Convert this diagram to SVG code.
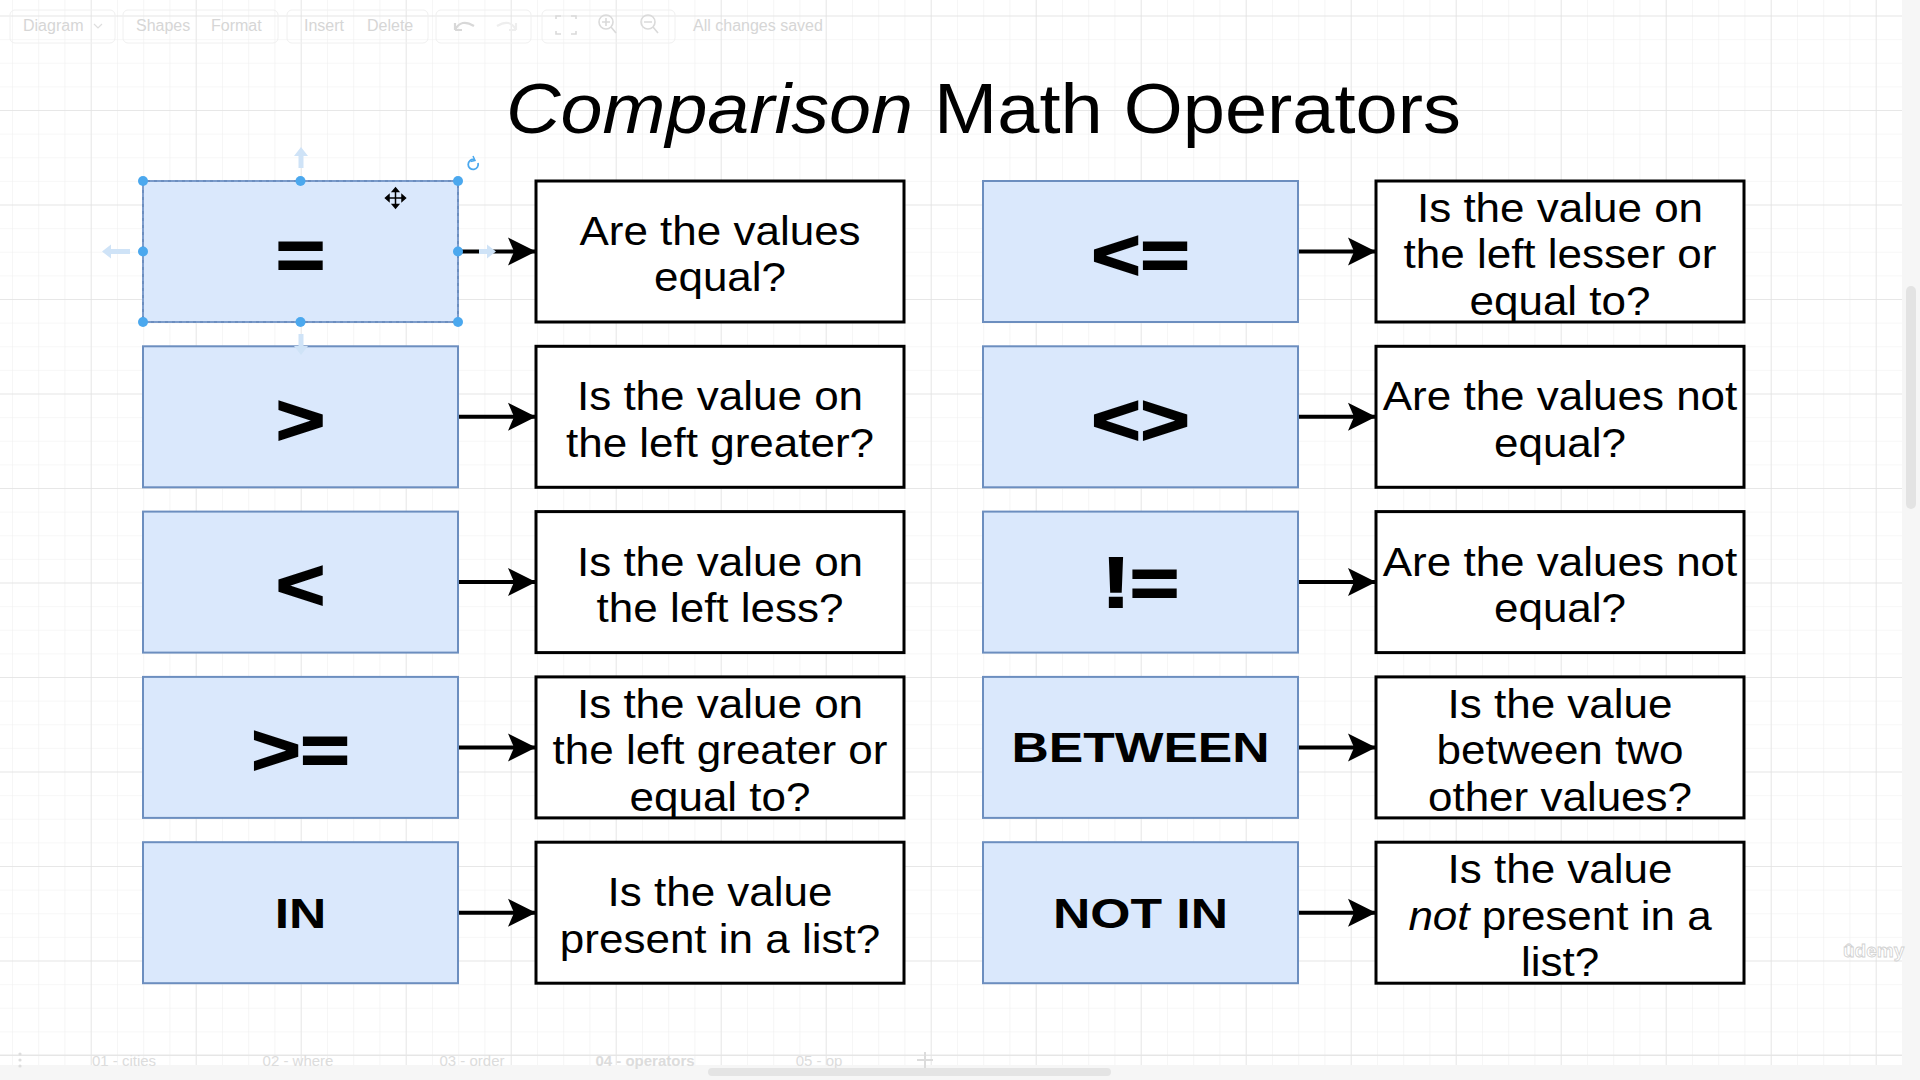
<svg xmlns="http://www.w3.org/2000/svg" width="1920" height="1080" viewBox="0 0 1920 1080">
  <defs>
    <pattern id="minor" x="90.7" y="15.5" width="26.25" height="23.625" patternUnits="userSpaceOnUse">
      <path d="M0,0 H26.25 M0,0 V23.625" fill="none" stroke="#efefef" stroke-width="1.2"/>
    </pattern>
    <pattern id="major" x="90.7" y="15.5" width="105" height="94.5" patternUnits="userSpaceOnUse">
      <path d="M0,0 H105 M0,0 V94.5" fill="none" stroke="#e2e2e2" stroke-width="1.4"/>
    </pattern>
    <marker id="arrow" markerUnits="userSpaceOnUse" markerWidth="32" markerHeight="32" refX="28" refY="15" orient="auto">
      <path d="M0,1 L28,15 L0,29 L6,15 Z" fill="#000"/>
    </marker>
    <style>
      .op { fill: #dae8fc; stroke: #6c8ebf; stroke-width: 2; }
      .q { fill: #ffffff; stroke: #000; stroke-width: 3; }
      .qt { font-family: "Liberation Sans", Arial, sans-serif; font-size: 40px; fill: #000; text-anchor: middle; }
      .sym { font-family: "Liberation Sans", Arial, sans-serif; font-size: 70px; font-weight: bold; fill: #000; stroke: #000; stroke-width: 1.8; text-anchor: middle; }
      .word { font-family: "Liberation Sans", Arial, sans-serif; font-size: 42px; font-weight: bold; fill: #000; text-anchor: middle; }
      .conn { stroke: #000; stroke-width: 4; fill: none; marker-end: url(#arrow); }
      .ui { font-family: "Liberation Sans", Arial, sans-serif; font-size: 16px; fill: #d6d6d6; }
      .tab { font-family: "Liberation Sans", Arial, sans-serif; font-size: 15px; fill: #dcdcdc; text-anchor: middle; }
      .handle { fill: #4ba8ee; }
      .hint { fill: #cfe3f7; }
    </style>
  </defs>

  <!-- canvas -->
  <rect x="0" y="0" width="1920" height="1080" fill="#ffffff"/>
  <rect x="0" y="0" width="1902" height="1065" fill="url(#minor)"/>
  <rect x="0" y="0" width="1902" height="1065" fill="url(#major)"/>

  <!-- faint toolbar -->
  <g id="toolbar">
    <g fill="none" stroke="#f0f0f0" stroke-width="1">
      <rect x="10" y="10" width="105" height="33" rx="5"/>
      <rect x="123" y="10" width="155" height="33" rx="5"/>
      <rect x="287" y="10" width="141" height="33" rx="5"/>
      <rect x="436" y="10" width="95" height="33" rx="5"/>
      <rect x="542" y="10" width="133" height="33" rx="5"/>
    </g>
    <text class="ui" x="23" y="31">Diagram</text>
    <path d="M94,24 l4,4 l4,-4" fill="none" stroke="#dedede" stroke-width="1.2"/>
    <text class="ui" x="136" y="31">Shapes</text>
    <text class="ui" x="211" y="31">Format</text>
    <text class="ui" x="304" y="31">Insert</text>
    <text class="ui" x="367" y="31">Delete</text>
    <path d="M455,30 q6,-12 19,-4 M455,30 l0,-7 M455,30 l7,0" fill="none" stroke="#d8d8d8" stroke-width="2.2"/>
    <path d="M516,30 q-6,-12 -19,-4 M516,30 l0,-7 M516,30 l-7,0" fill="none" stroke="#eeeeee" stroke-width="2.2"/>
    <path d="M556,19 v-3 h5 M571,16 h5 v3 M576,31 v3 h-5 M561,34 h-5 v-3" fill="none" stroke="#dadada" stroke-width="1.6"/>
    <circle cx="606" cy="22" r="7" fill="none" stroke="#dadada" stroke-width="1.6"/>
    <path d="M611,27 l5,6 M606,18 v8 M602,22 h8" fill="none" stroke="#dadada" stroke-width="1.6"/>
    <circle cx="648" cy="22" r="7" fill="none" stroke="#dadada" stroke-width="1.6"/>
    <path d="M653,27 l5,6 M644,22 h8" fill="none" stroke="#dadada" stroke-width="1.6"/>
    <text class="ui" x="693" y="31">All changes saved</text>
  </g>

  <!-- title -->
  <g id="title">
    <text x="506" y="133" font-family="'Liberation Sans', Arial, sans-serif" font-size="70" font-style="italic" textLength="407" lengthAdjust="spacingAndGlyphs">Comparison</text>
    <text x="934" y="133" font-family="'Liberation Sans', Arial, sans-serif" font-size="70" textLength="527" lengthAdjust="spacingAndGlyphs">Math Operators</text>
  </g>

  <!-- connectors -->
  <g id="connectors">
    <line class="conn" x1="458" y1="251.5" x2="536" y2="251.5"/>
    <line class="conn" x1="458" y1="416.8" x2="536" y2="416.8"/>
    <line class="conn" x1="458" y1="582.1" x2="536" y2="582.1"/>
    <line class="conn" x1="458" y1="747.4" x2="536" y2="747.4"/>
    <line class="conn" x1="458" y1="912.7" x2="536" y2="912.7"/>
    <line class="conn" x1="1298" y1="251.5" x2="1376" y2="251.5"/>
    <line class="conn" x1="1298" y1="416.8" x2="1376" y2="416.8"/>
    <line class="conn" x1="1298" y1="582.1" x2="1376" y2="582.1"/>
    <line class="conn" x1="1298" y1="747.4" x2="1376" y2="747.4"/>
    <line class="conn" x1="1298" y1="912.7" x2="1376" y2="912.7"/>
  </g>

  <!-- left column operators -->
  <g id="op-eq">
    <rect class="op" x="143" y="181" width="315" height="141"/>
    <text class="sym" transform="translate(300.5,278.5) scale(1.2,1)">=</text>
  </g>
  <g id="op-gt">
    <rect class="op" x="143" y="346.3" width="315" height="141"/>
    <text class="sym" transform="translate(300.5,443.8) scale(1.2,1)">&gt;</text>
  </g>
  <g id="op-lt">
    <rect class="op" x="143" y="511.6" width="315" height="141"/>
    <text class="sym" transform="translate(300.5,609.1) scale(1.2,1)">&lt;</text>
  </g>
  <g id="op-gte">
    <rect class="op" x="143" y="676.9" width="315" height="141"/>
    <text class="sym" transform="translate(300.5,774.4) scale(1.2,1)">&gt;=</text>
  </g>
  <g id="op-in">
    <rect class="op" x="143" y="842.2" width="315" height="141"/>
    <text class="word" transform="translate(300.5,927.7) scale(1.23,1)">IN</text>
  </g>

  <!-- left column questions -->
  <g id="q-eq">
    <rect class="q" x="536" y="181" width="368" height="141"/>
    <g transform="translate(720,0) scale(1.1,1)">
      <text class="qt" x="0" y="245">Are the values</text>
      <text class="qt" x="0" y="291.5">equal?</text>
    </g>
  </g>
  <g id="q-gt">
    <rect class="q" x="536" y="346.3" width="368" height="141"/>
    <g transform="translate(720,0) scale(1.1,1)">
      <text class="qt" x="0" y="410.3">Is the value on</text>
      <text class="qt" x="0" y="456.8">the left greater?</text>
    </g>
  </g>
  <g id="q-lt">
    <rect class="q" x="536" y="511.6" width="368" height="141"/>
    <g transform="translate(720,0) scale(1.1,1)">
      <text class="qt" x="0" y="575.6">Is the value on</text>
      <text class="qt" x="0" y="622.1">the left less?</text>
    </g>
  </g>
  <g id="q-gte">
    <rect class="q" x="536" y="676.9" width="368" height="141"/>
    <g transform="translate(720,0) scale(1.1,1)">
      <text class="qt" x="0" y="717.9">Is the value on</text>
      <text class="qt" x="0" y="764.4">the left greater or</text>
      <text class="qt" x="0" y="810.9">equal to?</text>
    </g>
  </g>
  <g id="q-in">
    <rect class="q" x="536" y="842.2" width="368" height="141"/>
    <g transform="translate(720,0) scale(1.1,1)">
      <text class="qt" x="0" y="906.2">Is the value</text>
      <text class="qt" x="0" y="952.7">present in a list?</text>
    </g>
  </g>

  <!-- right column operators -->
  <g id="op-lte">
    <rect class="op" x="983" y="181" width="315" height="141"/>
    <text class="sym" transform="translate(1140.5,278.5) scale(1.2,1)">&lt;=</text>
  </g>
  <g id="op-ne1">
    <rect class="op" x="983" y="346.3" width="315" height="141"/>
    <text class="sym" transform="translate(1140.5,443.8) scale(1.2,1)">&lt;&gt;</text>
  </g>
  <g id="op-ne2">
    <rect class="op" x="983" y="511.6" width="315" height="141"/>
    <text class="sym" transform="translate(1140.5,607) scale(1.2,1)">!=</text>
  </g>
  <g id="op-between">
    <rect class="op" x="983" y="676.9" width="315" height="141"/>
    <text class="word" transform="translate(1140.5,762.4) scale(1.23,1)">BETWEEN</text>
  </g>
  <g id="op-notin">
    <rect class="op" x="983" y="842.2" width="315" height="141"/>
    <text class="word" transform="translate(1140.5,927.7) scale(1.23,1)">NOT IN</text>
  </g>

  <!-- right column questions -->
  <g id="q-lte">
    <rect class="q" x="1376" y="181" width="368" height="141"/>
    <g transform="translate(1560,0) scale(1.1,1)">
      <text class="qt" x="0" y="222">Is the value on</text>
      <text class="qt" x="0" y="268.5">the left lesser or</text>
      <text class="qt" x="0" y="315">equal to?</text>
    </g>
  </g>
  <g id="q-ne1">
    <rect class="q" x="1376" y="346.3" width="368" height="141"/>
    <g transform="translate(1560,0) scale(1.1,1)">
      <text class="qt" x="0" y="410.3">Are the values not</text>
      <text class="qt" x="0" y="456.8">equal?</text>
    </g>
  </g>
  <g id="q-ne2">
    <rect class="q" x="1376" y="511.6" width="368" height="141"/>
    <g transform="translate(1560,0) scale(1.1,1)">
      <text class="qt" x="0" y="575.6">Are the values not</text>
      <text class="qt" x="0" y="622.1">equal?</text>
    </g>
  </g>
  <g id="q-between">
    <rect class="q" x="1376" y="676.9" width="368" height="141"/>
    <g transform="translate(1560,0) scale(1.1,1)">
      <text class="qt" x="0" y="717.9">Is the value</text>
      <text class="qt" x="0" y="764.4">between two</text>
      <text class="qt" x="0" y="810.9">other values?</text>
    </g>
  </g>
  <g id="q-notin">
    <rect class="q" x="1376" y="842.2" width="368" height="141"/>
    <g transform="translate(1560,0) scale(1.1,1)">
      <text class="qt" x="0" y="883.2">Is the value</text>
      <text class="qt" x="0" y="929.7"><tspan font-style="italic">not</tspan> present in a</text>
      <text class="qt" x="0" y="976.2">list?</text>
    </g>
  </g>

  <!-- selection decoration on "=" -->
  <g id="selection">
    <rect x="143" y="181" width="315" height="141" fill="none" stroke="#8aa7d6" stroke-width="1.2" stroke-dasharray="4 3"/>
    <path d="M301,147 l-7,9 h4.5 v12 h5 v-12 h4.5 z" class="hint"/>
    <path d="M102,251.5 l9,-7 v4.5 h19 v5 h-19 v4.5 z" class="hint"/>
    <path d="M496,251.5 l-9,-7 v4.5 h-8 v5 h8 v4.5 z" class="hint"/>
    <path d="M301,355 l-7,-9 h4.5 v-12 h5 v12 h4.5 z" class="hint"/>
    <circle class="handle" cx="143" cy="181" r="5"/>
    <circle class="handle" cx="300.5" cy="181" r="5"/>
    <circle class="handle" cx="458" cy="181" r="5"/>
    <circle class="handle" cx="143" cy="251.5" r="5"/>
    <circle class="handle" cx="458" cy="251.5" r="5"/>
    <circle class="handle" cx="143" cy="322" r="5"/>
    <circle class="handle" cx="300.5" cy="322" r="5"/>
    <circle class="handle" cx="458" cy="322" r="5"/>
    <path d="M478,163 a5,5 0 1 1 -4,-3.5" fill="none" stroke="#4ba8ee" stroke-width="1.8"/>
    <path d="M473,156 l2,4.5 l-4.5,1" fill="none" stroke="#4ba8ee" stroke-width="1.5"/>
    <g stroke="#000" stroke-width="1.5" fill="#000">
      <path d="M395.5,190 v16 M387.5,198 h16" fill="none"/>
      <path d="M395.5,188 l-3,3.5 h6 z M395.5,208 l-3,-3.5 h6 z M385.5,198 l3.5,-3 v6 z M405.5,198 l-3.5,-3 v6 z"/>
    </g>
  </g>

  <!-- bottom page tabs (faint) -->
  <g id="tabs">
    <line x1="0" y1="1055" x2="1902" y2="1055" stroke="#e6e6e6" stroke-width="1"/>
    <rect x="0" y="1065" width="1920" height="15" fill="#f6f6f6"/>
    <g fill="#dddddd">
      <circle cx="20" cy="1054" r="1.6"/>
      <circle cx="20" cy="1060" r="1.6"/>
      <circle cx="20" cy="1066" r="1.6"/>
    </g>
    <text class="tab" x="124" y="1066">01 - cities</text>
    <text class="tab" x="298" y="1066">02 - where</text>
    <text class="tab" x="472" y="1066">03 - order</text>
    <text class="tab" x="645" y="1066" font-weight="bold" fill="#d2d2d2">04 - operators</text>
    <text class="tab" x="819" y="1066">05 - op</text>
    <path d="M925,1052 v16 M917,1060 h16" stroke="#dcdcdc" stroke-width="2"/>
    <rect x="708" y="1068" width="403" height="8" rx="4" fill="#e4e4e4"/>
  </g>

  <!-- right scrollbar strip -->
  <rect x="1902" y="0" width="18" height="1080" fill="#f6f6f6"/>
  <rect x="1906" y="286" width="10" height="223" rx="5" fill="#e3e3e3"/>

  <!-- watermark -->
  <text x="1843" y="957" font-family="'Liberation Sans', Arial, sans-serif" font-size="19" font-weight="bold" fill="#ffffff" stroke="#d0d0d0" stroke-width="0.8">ûdemy</text>
</svg>
